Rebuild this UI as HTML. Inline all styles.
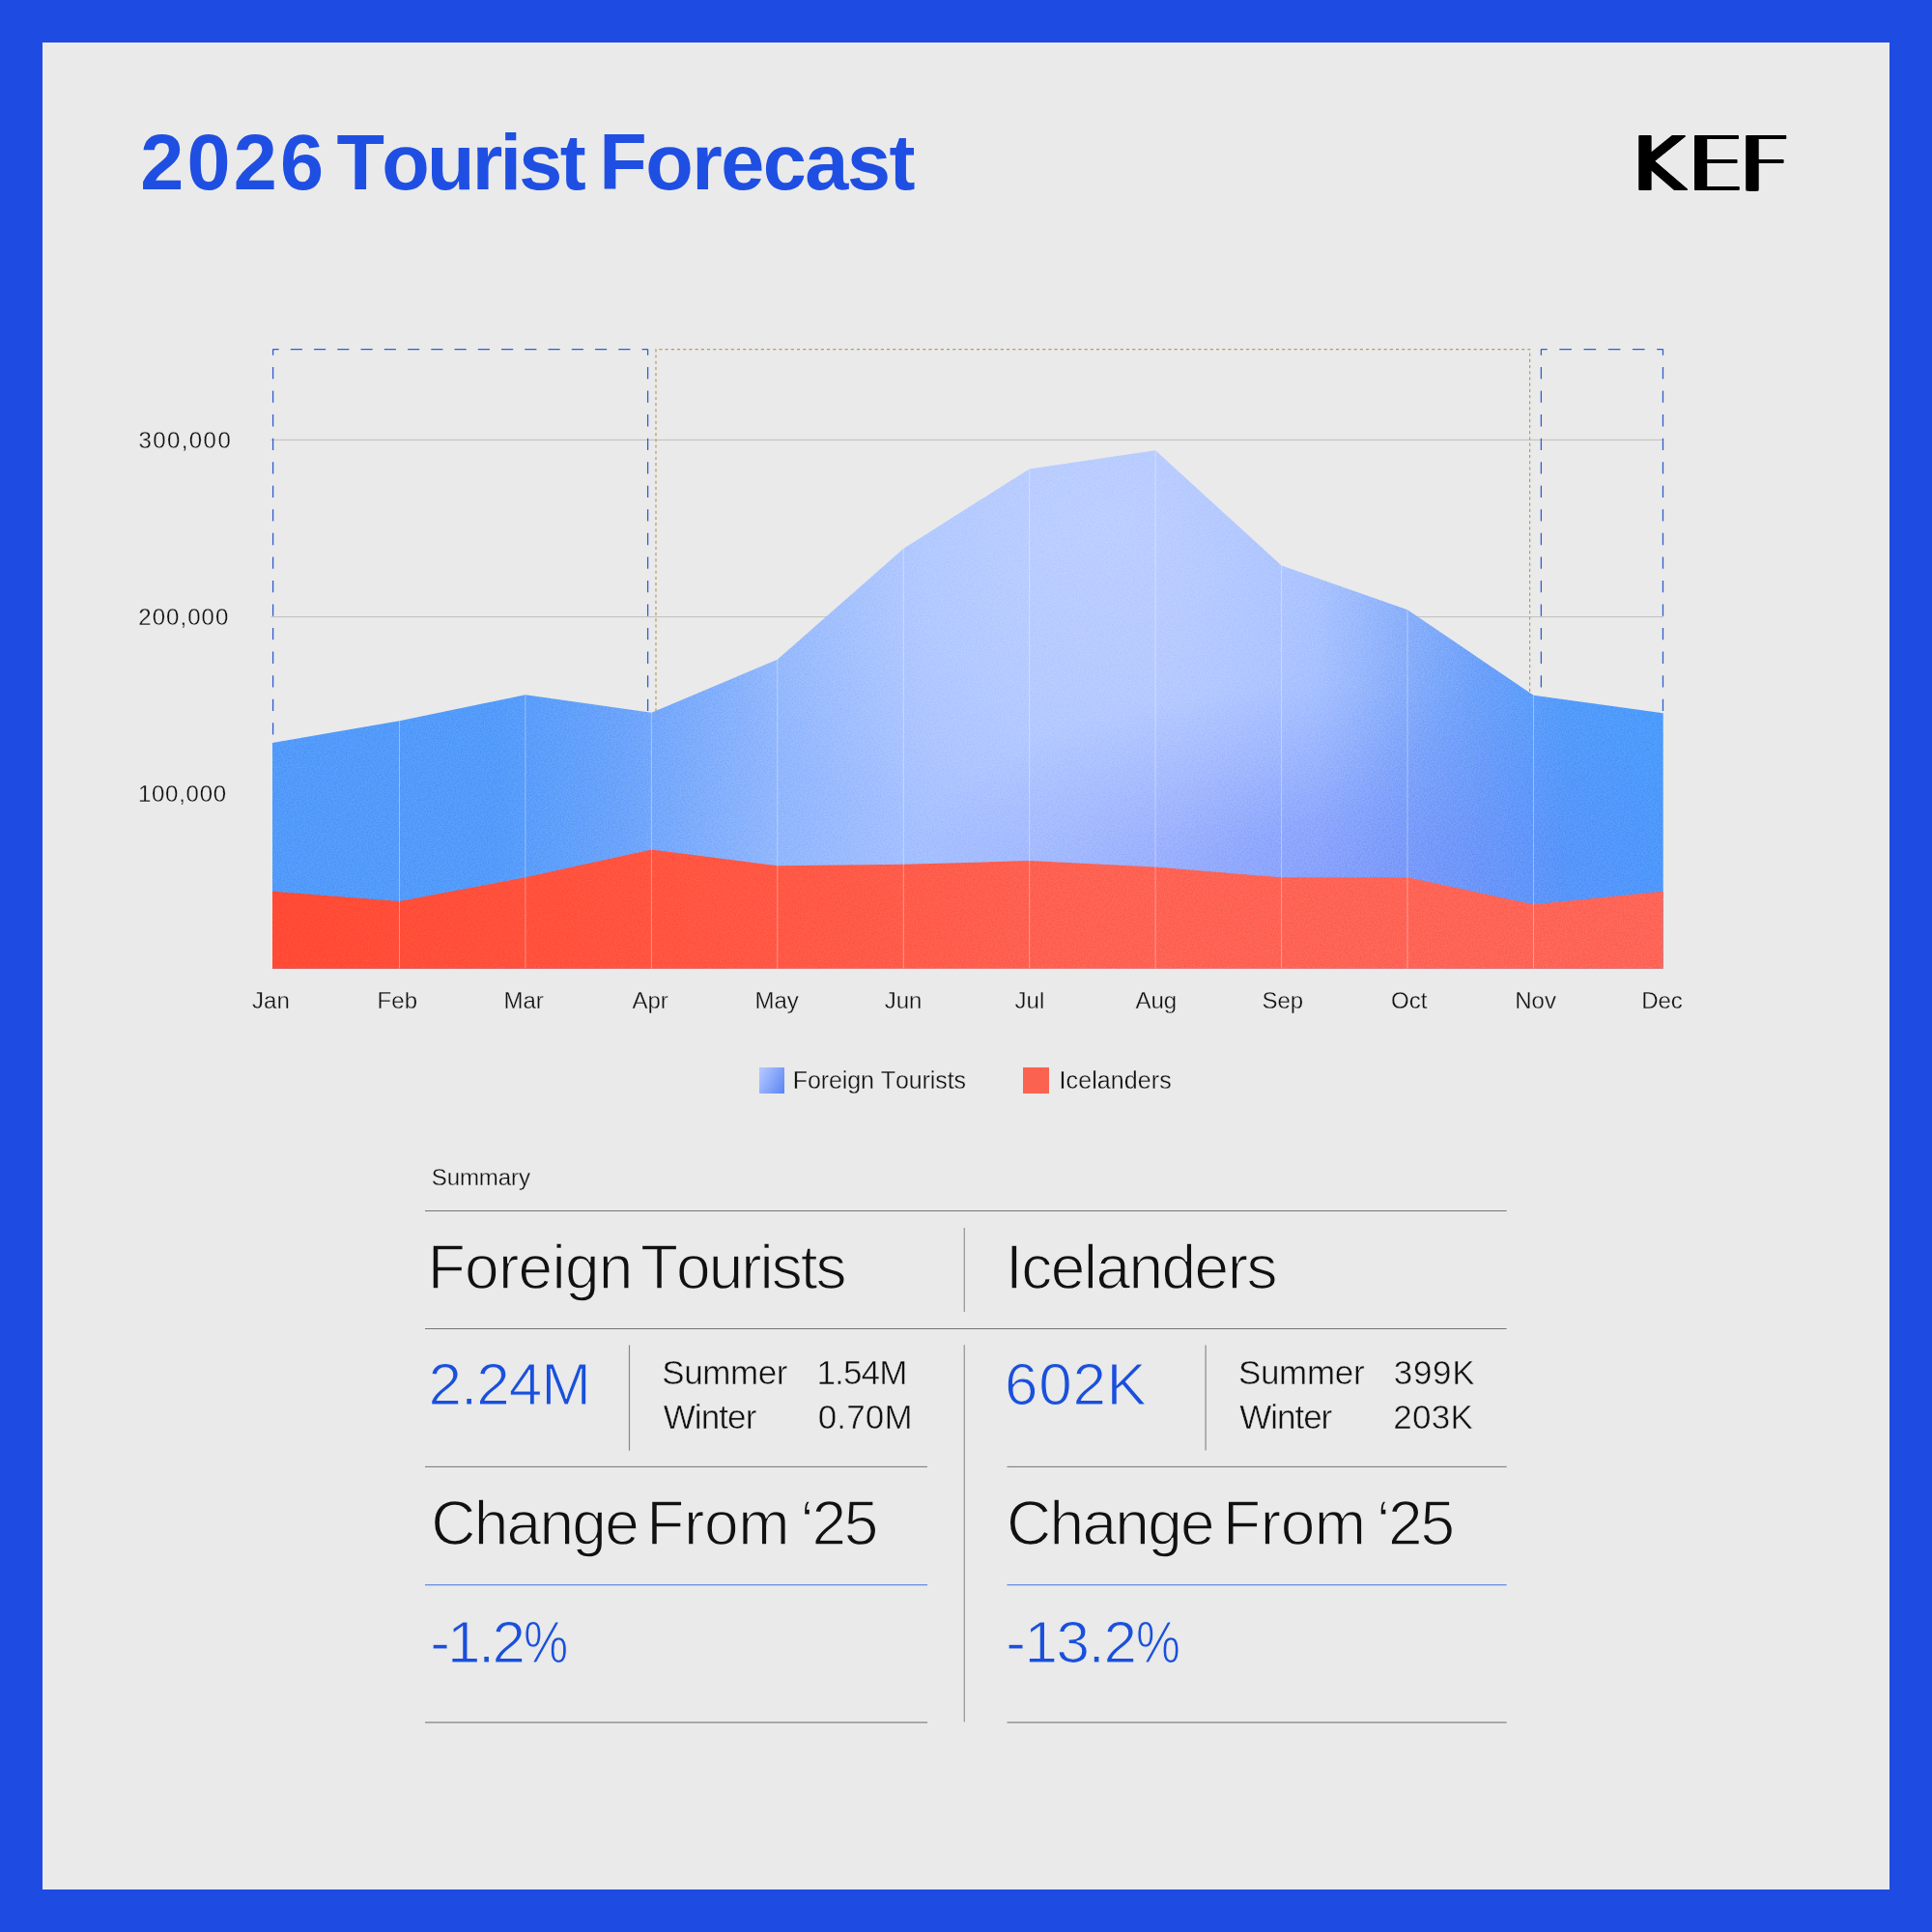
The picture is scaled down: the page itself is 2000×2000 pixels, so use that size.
<!DOCTYPE html>
<html lang="en">
<head>
<meta charset="utf-8">
<title>2026 Tourist Forecast</title>
<style>
  html, body { margin: 0; padding: 0; }
  body {
    width: 2000px; height: 2000px; position: relative; overflow: hidden;
    background: #1e4be2;
    font-family: "Liberation Sans", sans-serif;
    font-kerning: none;
    color: #111;
  }
  .panel { position: absolute; left: 44px; top: 44px; width: 1912px; height: 1912px; background: #eaeaea; }
  .abs, .w { position: absolute; white-space: nowrap; line-height: 1; }
  .t { font-weight: bold; color: #1f4fe2; font-size: 81px; }
  .logo { font-family: "DejaVu Sans Light", "Liberation Sans", sans-serif; font-weight: 200; color: #000; font-size: 76.8px; top: 131.7px; left: 1680.6px;
           transform-origin: 0 0; transform: scaleX(1.169); text-shadow: 0px 0.9px 0 #000, 1px 0px 0 #000, 1px 0.9px 0 #000, 2px 0px 0 #000, 2px 0.9px 0 #000, 3px 0px 0 #000, 3px 0.9px 0 #000, 4px 0px 0 #000, 4px 0.9px 0 #000, 5px 0px 0 #000, 5px 0.9px 0 #000, 6px 0px 0 #000, 6px 0.9px 0 #000, 7px 0px 0 #000, 7px 0.9px 0 #000, 7.2px 0px 0 #000, 7.2px 0.9px 0 #000; }
  svg.chart { position: absolute; left: 0; top: 0; }
  .y { font-size: 24px; color: #101010; }
  .xlab { font-size: 24px; color: #101010; top: 1024.2px; transform: translateX(-50%); -webkit-text-stroke: 0.3px #eaeaea; }
  .l { font-size: 25px; color: #101010; }
  .s { font-size: 24px; color: #101010; }
  .sw { position: absolute; width: 26.4px; height: 26.4px; top: 1105.4px; }
  .b { font-size: 64px; color: #111; }
  .n { font-size: 62px; color: #1950dc; }
  .m { font-size: 35px; color: #111; }
</style>
</head>
<body>
<div class="panel"></div>

<!-- header -->
<div class="abs" style="left:0;top:0;">
<span class="w t" style="left:145.3px;top:128.0px;letter-spacing:3.21px;">2026</span> <span class="w t" style="left:348.4px;top:128.0px;letter-spacing:-2.71px;">Tourist</span> <span class="w t" style="left:620.2px;top:128.0px;letter-spacing:-1.48px;">Forecast</span>
</div>
<div class="abs logo"><span style="letter-spacing:2.9px">K</span><span style="letter-spacing:-2.9px">E</span>F</div>

<!-- chart -->
<svg class="chart" width="2000" height="2000" viewBox="0 0 2000 2000">
  <defs>
    <linearGradient id="gBlue" x1="282" y1="0" x2="1722" y2="0" gradientUnits="userSpaceOnUse">
      <stop offset="0" stop-color="#529afb"/>
      <stop offset="0.16" stop-color="#539bfb"/>
      <stop offset="0.25" stop-color="#6ba3fb"/>
      <stop offset="0.36" stop-color="#90b6fd"/>
      <stop offset="0.47" stop-color="#a7c1ff"/>
      <stop offset="0.55" stop-color="#abc3ff"/>
      <stop offset="0.65" stop-color="#abc2ff"/>
      <stop offset="0.75" stop-color="#9fbbff"/>
      <stop offset="0.81" stop-color="#84abfb"/>
      <stop offset="0.87" stop-color="#6ba0fa"/>
      <stop offset="0.93" stop-color="#539bfb"/>
      <stop offset="1" stop-color="#4b9bfc"/>
    </linearGradient>
    <radialGradient id="gLight" cx="0" cy="0" r="1" gradientUnits="userSpaceOnUse" gradientTransform="translate(1140 540) scale(440 360)">
      <stop offset="0" stop-color="#ffffff" stop-opacity="0.2"/>
      <stop offset="0.55" stop-color="#ffffff" stop-opacity="0.12"/>
      <stop offset="1" stop-color="#ffffff" stop-opacity="0"/>
    </radialGradient>
    <radialGradient id="gPatch" cx="0" cy="0" r="1" gradientUnits="userSpaceOnUse" gradientTransform="translate(1380 915) scale(460 205)">
      <stop offset="0" stop-color="#697df8" stop-opacity="0.42"/>
      <stop offset="0.3" stop-color="#697df8" stop-opacity="0.32"/>
      <stop offset="0.6" stop-color="#697df8" stop-opacity="0.16"/>
      <stop offset="1" stop-color="#697df8" stop-opacity="0"/>
    </radialGradient>
    <linearGradient id="gRed" x1="282" y1="0" x2="1722" y2="0" gradientUnits="userSpaceOnUse">
      <stop offset="0" stop-color="#ff4a34"/>
      <stop offset="0.3" stop-color="#ff5541"/>
      <stop offset="0.6" stop-color="#fe6253"/>
      <stop offset="1" stop-color="#fe6557"/>
    </linearGradient>
    <filter id="grain" x="0" y="0" width="100%" height="100%" color-interpolation-filters="sRGB">
      <feTurbulence type="fractalNoise" baseFrequency="0.7" numOctaves="2" seed="3" result="n"/>
      <feColorMatrix in="n" type="matrix" values="3 0 0 0 -1  3 0 0 0 -1  3 0 0 0 -1  0 0 0 0 1"/>
    </filter>
    <clipPath id="areaClip"><polygon points="282.0,769.0 413.5,746.2 543.9,719.2 674.4,737.8 804.8,682.8 935.3,568.0 1065.7,485.4 1196.1,466.3 1326.6,585.5 1457.0,631.2 1587.5,719.7 1721.7,738.3 1721.7,1002.7 282.0,1002.7"/></clipPath>
  </defs>

  <!-- grid -->
  <line x1="280.5" y1="455.4" x2="1721.7" y2="455.4" stroke="#bfbfbf" stroke-width="1"/>
  <line x1="280.5" y1="638.6" x2="1721.7" y2="638.6" stroke="#bfbfbf" stroke-width="1"/>

  <!-- season boxes (run behind the areas) -->
  <g fill="none" stroke="#2f5ecf" stroke-width="1.3"><line x1="282.6" y1="361.6" x2="670.6" y2="361.6" stroke-dasharray="12.125 12.125" stroke-dashoffset="6.062"/><line x1="282.6" y1="361.6" x2="282.6" y2="768" stroke-dasharray="12.275 12.275" stroke-dashoffset="6.138"/><line x1="670.6" y1="361.6" x2="670.6" y2="1003" stroke-dasharray="12.275 12.275" stroke-dashoffset="6.138"/><line x1="1595.4" y1="361.6" x2="1721.5" y2="361.6" stroke-dasharray="12.610 12.610" stroke-dashoffset="6.305"/><line x1="1595.4" y1="361.6" x2="1595.4" y2="1003" stroke-dasharray="12.275 12.275" stroke-dashoffset="6.138"/><line x1="1721.5" y1="361.6" x2="1721.5" y2="737" stroke-dasharray="12.275 12.275" stroke-dashoffset="6.138"/></g>
  <polyline fill="none" stroke="#b89a60" stroke-width="1.2" stroke-dasharray="3.1 3.1" points="679,1003 679,361.6 1583.6,361.6 1583.6,1003"/>

  <!-- blue area -->
  <polygon fill="url(#gBlue)" points="282.0,769.0 413.5,746.2 543.9,719.2 674.4,737.8 804.8,682.8 935.3,568.0 1065.7,485.4 1196.1,466.3 1326.6,585.5 1457.0,631.2 1587.5,719.7 1721.7,738.3 1721.7,1002.7 282.0,1002.7"/>
  <g clip-path="url(#areaClip)"><rect x="282" y="440" width="1440" height="563" fill="url(#gLight)"/><rect x="282" y="440" width="1440" height="563" fill="url(#gPatch)"/></g>
  <!-- red area -->
  <polygon fill="url(#gRed)" points="282.0,922.8 413.5,933.0 543.9,908.3 674.4,879.5 804.8,896.2 935.3,894.8 1065.7,891.1 1196.1,897.6 1326.6,908.3 1457.0,908.3 1587.5,936.3 1721.7,922.8 1721.7,1002.7 282.0,1002.7"/>
  <!-- grain -->
  <rect x="282" y="440" width="1440" height="563" filter="url(#grain)" clip-path="url(#areaClip)" opacity="0.07" style="mix-blend-mode:overlay"/>
  <!-- month separators -->
  <g stroke="#ffffff" stroke-opacity="0.36" stroke-width="1" clip-path="url(#areaClip)"><line x1="413.5" y1="440" x2="413.5" y2="1002.7"/><line x1="543.9" y1="440" x2="543.9" y2="1002.7"/><line x1="674.4" y1="440" x2="674.4" y2="1002.7"/><line x1="804.8" y1="440" x2="804.8" y2="1002.7"/><line x1="935.3" y1="440" x2="935.3" y2="1002.7"/><line x1="1065.7" y1="440" x2="1065.7" y2="1002.7"/><line x1="1196.1" y1="440" x2="1196.1" y2="1002.7"/><line x1="1326.6" y1="440" x2="1326.6" y2="1002.7"/><line x1="1457.0" y1="440" x2="1457.0" y2="1002.7"/><line x1="1587.5" y1="440" x2="1587.5" y2="1002.7"/></g>
  <!-- table rules -->
  <g stroke="#767676" stroke-width="1" fill="none">
    <line x1="440" y1="1253.5" x2="1559.6" y2="1253.5"/>
    <line x1="440" y1="1375.5" x2="1559.6" y2="1375.5"/>
    <line x1="440" y1="1518.4" x2="960" y2="1518.4"/>
    <line x1="1042.5" y1="1518.4" x2="1559.6" y2="1518.4"/>
  </g>
  <g stroke="#4173dd" stroke-width="1.1" fill="none">
    <line x1="440" y1="1640.8" x2="960" y2="1640.8"/>
    <line x1="1042.5" y1="1640.8" x2="1559.6" y2="1640.8"/>
  </g>
  <g stroke="#a0a0a0" stroke-width="1.7" fill="none">
    <line x1="440" y1="1783.2" x2="960" y2="1783.2"/>
    <line x1="1042.5" y1="1783.2" x2="1559.6" y2="1783.2"/>
  </g>
  <g stroke="#9a9a9a" stroke-width="1.3" fill="none">
    <line x1="998.3" y1="1271" x2="998.3" y2="1358"/>
    <line x1="998.3" y1="1392.2" x2="998.3" y2="1782.6"/>
  </g>
  <g stroke="#888888" stroke-width="1.2" fill="none">
    <line x1="651.5" y1="1392.4" x2="651.5" y2="1501.6"/>
    <line x1="1248.1" y1="1392.4" x2="1248.1" y2="1501.6"/>
  </g>
</svg>

<!-- y labels -->
<span class="w y" style="left:143.4px;top:444.1px;letter-spacing:1.43px;-webkit-text-stroke:0.3px #eaeaea;">300,000</span>
<span class="w y" style="left:143.3px;top:626.6px;letter-spacing:1.05px;-webkit-text-stroke:0.3px #eaeaea;">200,000</span>
<span class="w y" style="left:142.9px;top:809.8px;letter-spacing:0.75px;-webkit-text-stroke:0.3px #eaeaea;">100,000</span>

<!-- x labels -->
<div class="abs xlab" style="left:280.4px;">Jan</div>
<div class="abs xlab" style="left:411.3px;">Feb</div>
<div class="abs xlab" style="left:542.2px;">Mar</div>
<div class="abs xlab" style="left:673.2px;">Apr</div>
<div class="abs xlab" style="left:804.1px;">May</div>
<div class="abs xlab" style="left:935.0px;">Jun</div>
<div class="abs xlab" style="left:1065.9px;">Jul</div>
<div class="abs xlab" style="left:1196.8px;">Aug</div>
<div class="abs xlab" style="left:1327.8px;">Sep</div>
<div class="abs xlab" style="left:1458.7px;">Oct</div>
<div class="abs xlab" style="left:1589.6px;">Nov</div>
<div class="abs xlab" style="left:1720.5px;">Dec</div>

<!-- legend -->
<div class="sw" style="left:785.5px; background:linear-gradient(118deg,#b1c6ff 8%,#5a84f4 100%);"></div>
<span class="w l" style="left:820.7px;top:1105.7px;letter-spacing:-0.08px;-webkit-text-stroke:0.3px #eaeaea;">Foreign Tourists</span>
<div class="sw" style="left:1059.2px; background:#fb6350;"></div>
<span class="w l" style="left:1096.5px;top:1105.7px;letter-spacing:0.10px;-webkit-text-stroke:0.3px #eaeaea;">Icelanders</span>

<!-- summary -->
<span class="w s" style="left:446.7px;top:1206.7px;letter-spacing:-0.06px;-webkit-text-stroke:0.3px #eaeaea;">Summary</span>
<div class="abs" style="left:0;top:0;"><span class="w b" style="left:442.7px;top:1280.3px;letter-spacing:-0.72px;-webkit-text-stroke:1.4px #eaeaea;">Foreign</span> <span class="w b" style="left:663.0px;top:1280.3px;letter-spacing:-2.01px;-webkit-text-stroke:1.4px #eaeaea;">Tourists</span></div>
<span class="w b" style="left:1041.1px;top:1280.3px;letter-spacing:-1.55px;-webkit-text-stroke:1.4px #eaeaea;">Icelanders</span>


<span class="w n" style="left:443.4px;top:1402.0px;letter-spacing:-0.98px;-webkit-text-stroke:1.2px #eaeaea;">2.24M</span>
<span class="w m" style="left:685.3px;top:1403.2px;letter-spacing:-0.43px;-webkit-text-stroke:0.5px #eaeaea;">Summer</span>
<span class="w m" style="left:845.4px;top:1403.2px;letter-spacing:-0.83px;-webkit-text-stroke:0.5px #eaeaea;">1.54M</span>
<span class="w m" style="left:686.7px;top:1449.2px;letter-spacing:-0.90px;-webkit-text-stroke:0.5px #eaeaea;">Winter</span>
<span class="w m" style="left:846.7px;top:1449.2px;letter-spacing:0.17px;-webkit-text-stroke:0.5px #eaeaea;">0.70M</span>
<div class="abs" style="left:0;top:0;"><span class="w b" style="left:446.2px;top:1545.0px;letter-spacing:-1.72px;-webkit-text-stroke:1.4px #eaeaea;">Change</span> <span class="w b" style="left:669.3px;top:1545.0px;letter-spacing:-0.38px;-webkit-text-stroke:1.4px #eaeaea;">From</span> <span class="w b" style="left:828.4px;top:1545.0px;letter-spacing:-2.17px;-webkit-text-stroke:1.4px #eaeaea;">‘25</span></div>
<div class="abs" style="left:0;top:0;"><span class="w n" style="left:445.2px;top:1668.7px;letter-spacing:-2.72px;-webkit-text-stroke:1.2px #eaeaea;">-1.2</span><span class="w n" style="left:542.4px;top:1668.7px;transform-origin:0 0;transform:scaleX(0.838);-webkit-text-stroke:1.2px #eaeaea;">%</span></div>

<span class="w n" style="left:1040.0px;top:1402.0px;letter-spacing:0.72px;-webkit-text-stroke:1.2px #eaeaea;">602K</span>
<span class="w m" style="left:1281.9px;top:1403.2px;letter-spacing:-0.31px;-webkit-text-stroke:0.5px #eaeaea;">Summer</span>
<span class="w m" style="left:1442.7px;top:1403.2px;letter-spacing:0.73px;-webkit-text-stroke:0.5px #eaeaea;">399K</span>
<span class="w m" style="left:1283.3px;top:1449.2px;letter-spacing:-1.04px;-webkit-text-stroke:0.5px #eaeaea;">Winter</span>
<span class="w m" style="left:1442.3px;top:1449.2px;letter-spacing:0.24px;-webkit-text-stroke:0.5px #eaeaea;">203K</span>
<div class="abs" style="left:0;top:0;"><span class="w b" style="left:1042.1px;top:1545.0px;letter-spacing:-1.72px;-webkit-text-stroke:1.4px #eaeaea;">Change</span> <span class="w b" style="left:1266.0px;top:1545.0px;letter-spacing:-0.38px;-webkit-text-stroke:1.4px #eaeaea;">From</span> <span class="w b" style="left:1425.0px;top:1545.0px;letter-spacing:-2.17px;-webkit-text-stroke:1.4px #eaeaea;">‘25</span></div>
<div class="abs" style="left:0;top:0;"><span class="w n" style="left:1041.2px;top:1668.7px;letter-spacing:-1.41px;-webkit-text-stroke:1.2px #eaeaea;">-13.2</span><span class="w n" style="left:1175.7px;top:1668.7px;transform-origin:0 0;transform:scaleX(0.832);-webkit-text-stroke:1.2px #eaeaea;">%</span></div>

</body>
</html>
